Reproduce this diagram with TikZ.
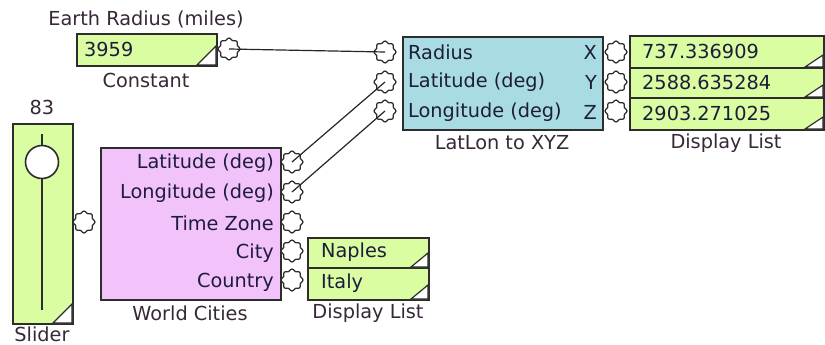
\documentclass[tikz,border=0pt]{standalone}
\usepackage{fontspec}
\setmainfont{DejaVu Sans}
\begin{document}
\begin{tikzpicture}[x=1pt,y=-1pt,
  every node/.style={font=\fontsize{19.3}{22}\selectfont, text=txt, inner sep=0pt},
  box/.style={draw=edge, line width=1.6pt, anchor=north west},
  gbox/.style={box, fill=gfill},
  lbl/.style={text=lbltxt},
  portnode/.style={circle, minimum size=21pt, fill=white},
  portedge/.style={draw=edge, line width=1.3pt},
  wire/.style={draw=black!85, line width=1.2pt},
  tri/.style={fill=white, draw=edge, line width=1.2pt}]
\definecolor{gfill}{RGB}{217,253,160}
\definecolor{bfill}{RGB}{168,220,226}
\definecolor{pfill}{RGB}{242,194,250}
\definecolor{edge}{RGB}{45,45,45}
\definecolor{txt}{RGB}{30,28,60}
\definecolor{lbltxt}{RGB}{55,40,55}
\newcommand\port[2]{\node[portnode] (#1) at (#2) {};
  \draw[portedge, shift={(#1.center)}] plot[domain=0:352.5, samples=48, smooth cycle] (\x:{10.0+0.9*cos(8*\x)});}
\useasboundingbox[fill=white] (0,0) rectangle (825,345);

% Constant
\node[gbox, minimum width=140pt, minimum height=32pt] (const) at (76,33) {};
\node[anchor=west] (constval) at (84,49) {3959};
\fill[tri] (197,65) -- (216,65) -- (216,46) -- cycle;
\node[lbl] (constname) at (146,19) {Earth Radius (miles)};
\node[lbl] (consttype) at (146,80) {Constant};

% LatLon to XYZ
\node[box, fill=bfill, minimum width=200pt, minimum height=93pt] (ll) at (402,36) {};
\node[anchor=west] (llr) at (408,52) {Radius};
\node[anchor=west] (lllat) at (408,82) {Latitude (deg)};
\node[anchor=west] (lllon) at (408,112) {Longitude (deg)};
\node[anchor=east] (llx) at (597,52) {X};
\node[anchor=east] (lly) at (597,82) {Y};
\node[anchor=east] (llz) at (597,112) {Z};
\node[lbl] (lltype) at (502,143) {LatLon to XYZ};

% Display list right
\node[gbox, minimum width=194pt, minimum height=32pt] (d1) at (629,35) {};
\node[gbox, minimum width=194pt, minimum height=30pt] (d2) at (629,67) {};
\node[gbox, minimum width=194pt, minimum height=32pt] (d3) at (629,97) {};
\fill[tri] (805,67) -- (823,67) -- (823,55) -- cycle;
\fill[tri] (805,97) -- (823,97) -- (823,85) -- cycle;
\fill[tri] (805,129) -- (823,129) -- (823,117) -- cycle;
\node[anchor=west] (d1v) at (642,51) {737.336909};
\node[anchor=west] (d2v) at (642,82) {2588.635284};
\node[anchor=west] (d3v) at (642,113) {2903.271025};
\node[lbl] (dtype) at (726,143) {Display List};

% Slider
\node[gbox, minimum width=60pt, minimum height=200pt] (slider) at (12,123) {};
\draw[draw=edge, line width=1.6pt] (42,134) -- (42,310);
\node[circle, draw=edge, line width=1.6pt, fill=white, minimum size=33pt] (knob) at (42,162) {};
\fill[tri] (53,323) -- (72,323) -- (72,304) -- cycle;
\node[lbl] (sval) at (42,107) {83};
\node[lbl] (stype) at (42,334) {Slider};

% World Cities
\node[box, fill=pfill, minimum width=180pt, minimum height=152pt] (wc) at (100,147) {};
\node[anchor=east] (wclat) at (274,163) {Latitude (deg)};
\node[anchor=east] (wclon) at (274,193) {Longitude (deg)};
\node[anchor=east] (wctz) at (274,223) {Time Zone};
\node[anchor=east] (wccity) at (274,253) {City};
\node[anchor=east] (wcctry) at (274,282) {Country};
\node[lbl] (wctype) at (190,313) {World Cities};

% Display list small
\node[gbox, minimum width=121pt, minimum height=30pt] (e1) at (307,237) {};
\node[gbox, minimum width=121pt, minimum height=32pt] (e2) at (307,267) {};
\fill[tri] (411,267) -- (428,267) -- (428,253) -- cycle;
\fill[tri] (411,299) -- (428,299) -- (428,285) -- cycle;
\node[anchor=west] (e1v) at (321,252) {Naples};
\node[anchor=west] (e2v) at (321,283) {Italy};
\node[lbl] (etype) at (368,313) {Display List};

% Ports
\port{pconst}{229,49}
\port{pr}{385,52}
\port{plat}{385,82}
\port{plon}{385,111}
\port{px}{616,52}
\port{py}{616,82}
\port{pz}{616,111}
\port{pslider}{84,222}
\port{pwlat}{292,162}
\port{pwlon}{292,192}
\port{pwtz}{292,222}
\port{pwcity}{292,251}
\port{pwctry}{292,280}

% Wires
\draw[wire] (pconst.center) -- (pr.center);
\draw[wire] (pwlat.center) -- (plat.center);
\draw[wire] (pwlon.center) -- (plon.center);
\end{tikzpicture}
\end{document}
